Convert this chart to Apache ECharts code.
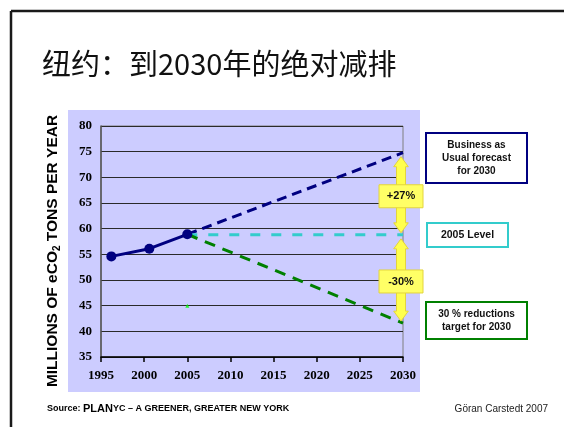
<!DOCTYPE html>
<html>
<head>
<meta charset="utf-8">
<style>
  html, body { margin: 0; padding: 0; background: #fff; }
  #chart { width: 564px; height: 427px; }
</style>
<script src="https://cdn.jsdelivr.net/npm/echarts@6/dist/echarts.min.js"></script>
</head>
<body>
<div id="chart"></div>
<script>
// Historical emissions (millions of tons eCO2 per year)
const actualYears = [1996.2, 2000.6, 2005];
const actualValues = [54.6, 56.1, 58.9];

// Projections from 2005 to 2030
const forecastYears = [2005, 2030];
const bauValues = [58.9, 74.8];
const levelValues = [58.8, 58.8];
const targetValues = [58.9, 41.6];

// Stray marker point
const markerYear = 2005;
const markerValue = 45;

// Change annotations at 2030
const changeYear = 2030;
const changeLabels = ['+27%', '-30%'];

// Axis setup
const yearMin = 1995, yearMax = 2030, yearStep = 5;
const valueMin = 35, valueMax = 80, valueStep = 5;

const chart = echarts.init(document.getElementById('chart'));

const pairs = (xs, ys) => xs.map((x, i) => [x, ys[i]]);

// [year, from, to, label]
const changeData = [
  [changeYear, bauValues[1], levelValues[1], changeLabels[0]],
  [changeYear, levelValues[1], targetValues[1], changeLabels[1]]
];

const serifBold = { fontFamily: 'Liberation Serif', fontWeight: 'bold', fontSize: 13, color: '#000' };

function boxGroup(x, y, w, h, color, lines, lineH, fontSize) {
  return {
    type: 'group',
    children: [{
      type: 'rect',
      shape: { x: x, y: y, width: w, height: h },
      style: { fill: '#fff', stroke: color, lineWidth: 2 }
    }, {
      type: 'text',
      x: x + w / 2,
      y: y + h / 2,
      style: {
        text: lines.join('\n'),
        align: 'center',
        verticalAlign: 'middle',
        lineHeight: lineH,
        font: 'bold ' + fontSize + 'px "Liberation Sans", Arial, sans-serif',
        fill: '#111'
      }
    }]
  };
}

chart.setOption({
  animation: false,
  backgroundColor: '#fff',
  grid: {
    left: 101, right: 161, top: 126, bottom: 70,
    show: true, borderColor: '#7f7f7f', borderWidth: 1,
    backgroundColor: 'transparent'
  },
  xAxis: {
    type: 'value',
    min: yearMin, max: yearMax, interval: yearStep,
    axisLine: { lineStyle: { color: '#000', width: 1.5 } },
    axisTick: { show: true, length: 5, inside: false, lineStyle: { color: '#000', width: 1.5 } },
    axisLabel: Object.assign({ margin: 12, formatter: v => String(v) }, serifBold),
    splitLine: { show: false }
  },
  yAxis: {
    type: 'value',
    min: valueMin, max: valueMax, interval: valueStep,
    axisLine: { show: true, lineStyle: { color: '#555', width: 1.5 } },
    axisTick: { show: false },
    axisLabel: Object.assign({ margin: 9 }, serifBold),
    splitLine: { show: true, lineStyle: { color: '#2a2a2a', width: 1 } }
  },
  graphic: [
    // slide frame
    { type: 'line', shape: { x1: 11, y1: 11, x2: 564, y2: 11 }, style: { stroke: '#1a1a1a', lineWidth: 2.5 }, z: 1 },
    { type: 'line', shape: { x1: 11, y1: 11, x2: 11, y2: 427 }, style: { stroke: '#1a1a1a', lineWidth: 2.5 }, z: 1 },
    // chart backdrop
    { type: 'rect', shape: { x: 68, y: 110, width: 352, height: 282 }, style: { fill: '#CCCCFF' }, z: -10, silent: true },
    // title
    {
      type: 'text', x: 42, y: 64,
      style: {
        text: '纽约：到2030年的绝对减排',
        font: '29px "Noto Sans CJK SC", sans-serif',
        fill: '#111', verticalAlign: 'middle'
      }
    },
    // vertical axis title
    {
      type: 'text', x: 53, y: 251, rotation: Math.PI / 2,
      style: {
        text: '{t|MILLIONS OF eCO}{s|2}{t| TONS PER YEAR}',
        align: 'center', verticalAlign: 'middle',
        rich: {
          t: { font: 'bold 15.5px "Liberation Sans", Arial, sans-serif', fill: '#000' },
          s: { font: 'bold 10px "Liberation Sans", Arial, sans-serif', fill: '#000', padding: [8, 0, 0, 0] }
        }
      }
    },
    // annotation boxes
    boxGroup(426, 133, 101, 50, '#000080', ['Business as', 'Usual forecast', 'for 2030'], 13, 10),
    boxGroup(427, 223, 81, 24, '#33CCCC', ['2005 Level'], 13, 10.5),
    boxGroup(426, 302, 101, 37, '#008000', ['30 % reductions', 'target for 2030'], 13, 10),
    // source line
    {
      type: 'text', x: 47, y: 409,
      style: {
        text: '{a|Source: }{b|PLAN}{c|YC – A GREENER, GREATER NEW YORK}',
        verticalAlign: 'middle',
        rich: {
          a: { font: 'bold 9px "Liberation Sans", Arial, sans-serif', fill: '#000' },
          b: { font: 'bold 11px "Liberation Sans", Arial, sans-serif', fill: '#000' },
          c: { font: 'bold 9px "Liberation Sans", Arial, sans-serif', fill: '#000' }
        }
      }
    },
    {
      type: 'text', x: 548, y: 409,
      style: {
        text: 'Göran Carstedt 2007',
        align: 'right', verticalAlign: 'middle',
        font: '10px "Liberation Sans", Arial, sans-serif', fill: '#222'
      }
    }
  ],
  series: [
    {
      name: 'Business as usual',
      type: 'line',
      data: pairs(forecastYears, bauValues),
      symbol: 'none',
      lineStyle: { color: '#000080', width: 3, type: [10, 6] },
      z: 3
    },
    {
      name: '2005 Level',
      type: 'line',
      data: pairs(forecastYears, levelValues),
      symbol: 'none',
      lineStyle: { color: '#33CCCC', width: 3, type: [10, 11] },
      z: 3
    },
    {
      name: 'Target',
      type: 'line',
      data: pairs(forecastYears, targetValues),
      symbol: 'none',
      lineStyle: { color: '#008000', width: 3, type: [11, 8] },
      z: 3
    },
    {
      name: 'Actual',
      type: 'line',
      data: pairs(actualYears, actualValues),
      symbol: 'circle',
      symbolSize: 10,
      itemStyle: { color: '#000080' },
      lineStyle: { color: '#000080', width: 3 },
      z: 4
    },
    {
      name: 'Marker',
      type: 'scatter',
      data: [[markerYear, markerValue]],
      symbol: 'triangle',
      symbolSize: 4,
      itemStyle: { color: '#00FF00' },
      z: 4
    },
    {
      name: 'Change',
      type: 'custom',
      clip: false,
      z: 6,
      data: changeData,
      renderItem: function (params, api) {
        const pa = api.coord([api.value(0), api.value(1)]);
        const pb = api.coord([api.value(0), api.value(2)]);
        const x = pa[0] - 2;
        const top = Math.min(pa[1], pb[1]) + 4;
        const bot = Math.max(pa[1], pb[1]) - 2;
        const sw = 4.5, hw = 7.3, hl = 10;
        const mid = (top + bot) / 2 + 1.5;
        const label = changeData[params.dataIndex][3];
        return {
          type: 'group',
          children: [
            {
              type: 'polygon',
              shape: {
                points: [
                  [x, top], [x + hw, top + hl], [x + sw, top + hl],
                  [x + sw, bot - hl], [x + hw, bot - hl], [x, bot],
                  [x - hw, bot - hl], [x - sw, bot - hl], [x - sw, top + hl],
                  [x - hw, top + hl]
                ]
              },
              style: { fill: '#FFFF4D', stroke: '#E3D43C', lineWidth: 1 }
            },
            {
              type: 'rect',
              shape: { x: x - 22, y: mid - 11.5, width: 44, height: 23 },
              style: { fill: '#FFFF66', stroke: '#E3D43C', lineWidth: 1 }
            },
            {
              type: 'text',
              x: x,
              y: mid,
              style: {
                text: label,
                align: 'center', verticalAlign: 'middle',
                font: 'bold 11px "Liberation Sans", Arial, sans-serif',
                fill: '#111'
              }
            }
          ]
        };
      }
    }
  ]
});
</script>
</body>
</html>
